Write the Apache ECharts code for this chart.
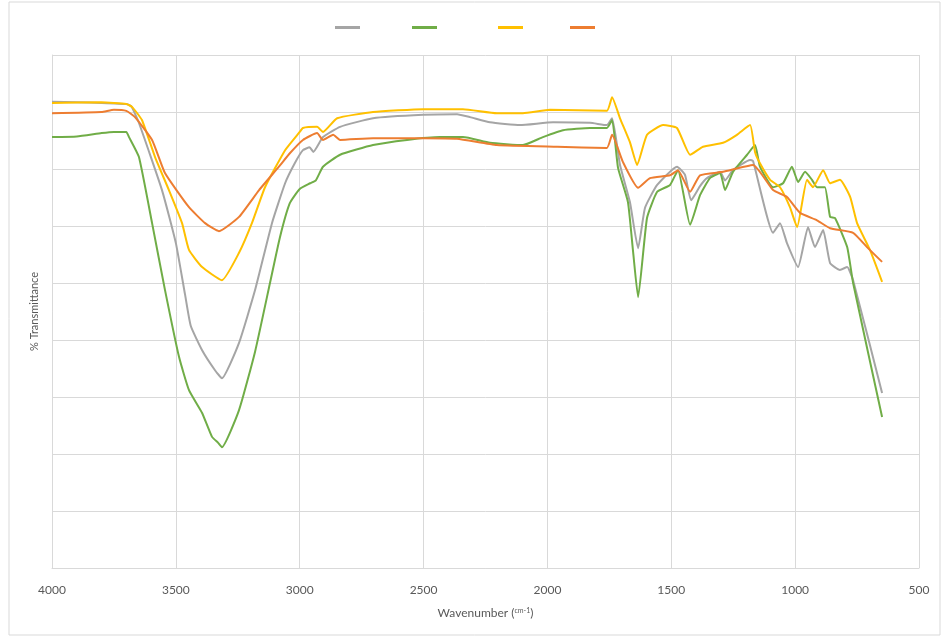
<!DOCTYPE html>
<html>
<head>
<meta charset="utf-8">
<script src="https://cdn.jsdelivr.net/npm/echarts@6/dist/echarts.min.js"></script>
<style>
html,body{margin:0;padding:0;background:#fff;}
#chart{width:946px;height:639px;}
</style>
</head>
<body>
<div id="chart"></div>
<script>
// Wavenumber ticks
const xTicks = [4000, 3500, 3000, 2500, 2000, 1500, 1000, 500];

// Series names (legend shows only line keys, no text)
const seriesNames = ['Sample 1', 'Sample 2', 'Sample 3', 'Sample 4'];

// [wavenumber, % transmittance (arbitrary scale 0-90)]
const grayData = [
  [4000,81.8],[3900,81.7],[3800,81.6],[3700,81.4],[3680,81.0],[3650,78.2],[3556,66.3],[3500,57.0],
  [3463,48.0],[3440,42.5],[3394,38.2],[3342,34.7],[3314,33.3],[3245,39.5],[3180,48.8],[3112,60.5],
  [3059,67.5],[3020,71.0],[2987,73.3],[2960,73.8],[2945,73.0],[2906,75.6],[2837,77.4],[2704,78.9],
  [2502,79.5],[2365,79.6],[2312,79.1],[2232,78.2],[2111,77.7],[1977,78.2],[1828,78.1],[1760,77.7],
  [1739,78.9],[1707,70.7],[1667,64.2],[1634,56.1],[1606,63.2],[1557,67.2],[1477,70.4],[1445,69.0],
  [1420,64.5],[1384,67.0],[1356,68.4],[1303,69.5],[1283,68.0],[1251,69.8],[1182,71.6],[1170,71.4],
  [1089,58.8],[1061,60.5],[1033,57.0],[988,52.8],[948,59.8],[920,56.3],[887,59.3],[859,53.5],
  [819,52.3],[790,52.8],[766,50.5],[649,30.7]
];
const greenData = [
  [4000,75.6],[3900,75.7],[3800,76.3],[3750,76.5],[3700,76.5],[3689,75.6],[3649,72.1],[3596,60.5],
  [3544,48.8],[3487,37.0],[3447,31.2],[3394,27.2],[3354,23.0],[3330,22.0],[3314,21.2],[3245,27.7],
  [3180,38.0],[3120,50.0],[3080,58.0],[3040,64.0],[3000,66.5],[2958,67.5],[2935,68.0],[2906,70.4],
  [2837,72.5],[2704,74.2],[2567,75.1],[2434,75.6],[2341,75.6],[2232,74.6],[2099,74.2],[2018,75.6],
  [1937,76.8],[1828,77.2],[1760,77.2],[1739,78.6],[1715,70.2],[1675,64.2],[1654,55.4],[1634,47.5],
  [1598,61.4],[1557,66.0],[1505,67.2],[1473,69.8],[1424,60.2],[1384,65.4],[1344,68.4],[1303,69.3],
  [1283,66.3],[1251,69.5],[1194,72.5],[1162,74.2],[1142,70.4],[1089,66.8],[1049,67.5],[1013,70.4],
  [988,67.7],[960,69.5],[932,68.1],[912,66.8],[880,66.8],[859,61.6],[839,61.4],[790,56.3],
  [766,50.0],[649,26.5]
];
const yellowData = [
  [4000,81.6],[3800,81.7],[3700,81.4],[3677,80.9],[3637,78.6],[3584,72.1],[3528,66.3],[3475,60.5],
  [3447,55.8],[3394,52.8],[3314,50.5],[3245,55.3],[3193,60.5],[3140,66.8],[3059,73.3],[3000,76.5],
  [2987,77.2],[2930,77.4],[2906,76.5],[2849,78.9],[2704,80.0],[2502,80.5],[2341,80.5],[2204,79.8],
  [2099,79.8],[1990,80.4],[1760,80.2],[1739,82.6],[1707,78.9],[1667,74.7],[1638,70.7],[1598,76.0],
  [1533,77.7],[1477,77.2],[1424,72.5],[1372,73.9],[1291,74.6],[1235,76.0],[1182,77.7],[1162,73.0],
  [1142,71.0],[1101,68.1],[1061,66.8],[1021,63.3],[992,59.8],[952,68.1],[928,66.8],[887,69.8],
  [859,67.5],[819,68.1],[778,65.1],[750,60.5],[698,55.8],[649,50.2]
];
const orangeData = [
  [4000,79.8],[3800,80.0],[3750,80.4],[3700,80.2],[3665,79.1],[3596,75.1],[3544,69.3],[3447,63.3],
  [3382,60.5],[3326,59.1],[3245,61.6],[3164,66.3],[3084,70.4],[3039,72.8],[2987,75.1],[2930,76.3],
  [2906,75.1],[2865,76.0],[2837,75.1],[2704,75.4],[2502,75.4],[2365,75.3],[2204,74.2],[1961,73.9],
  [1760,73.7],[1739,76.0],[1695,71.2],[1634,66.7],[1586,68.4],[1505,68.9],[1473,69.8],[1424,66.0],
  [1384,68.9],[1291,69.5],[1170,70.7],[1089,66.3],[1033,65.1],[980,62.3],[912,61.0],[859,59.6],
  [766,58.8],[710,56.3],[649,53.7]
];

const colors = ['#a5a5a5', '#70ad47', '#ffc000', '#ed7d31'];
const allData = [grayData, greenData, yellowData, orangeData];
const legendLefts = [335, 412, 498, 570];

const chart = echarts.init(document.getElementById('chart'), null, {renderer: 'canvas'});

const option = {
  animation: false,
  backgroundColor: '#ffffff',
  textStyle: {fontFamily: 'Lato, "Open Sans", sans-serif'},
  graphic: [{
    type: 'rect',
    shape: {x: 9, y: 2, width: 931, height: 633},
    style: {fill: 'none', stroke: '#d9d9d9', lineWidth: 1},
    silent: true, z: -1
  }],
  legend: seriesNames.map((n, i) => ({
    data: [{name: n, icon: 'rect'}],
    left: legendLefts[i],
    top: 26,
    itemWidth: 25,
    itemHeight: 3,
    padding: 0,
    formatter: () => '',
    selectedMode: false
  })),
  grid: {left: 52, right: 27, top: 55, bottom: 71, containLabel: false},
  xAxis: {
    type: 'value',
    inverse: true,
    min: 500,
    max: 4000,
    interval: 500,
    name: 'Wavenumber ({sup|cm-1})',
    nameLocation: 'middle',
    nameGap: 39,
    nameTextStyle: {
      color: '#595959', fontSize: 12,
      rich: {sup: {fontSize: 7, color: '#595959', verticalAlign: 'top', padding: [0, 0, 6, 0]}}
    },
    axisLine: {show: true, lineStyle: {color: '#d9d9d9'}},
    axisTick: {show: false},
    axisLabel: {color: '#595959', fontSize: 12, margin: 16, formatter: v => String(v)},
    splitLine: {show: true, lineStyle: {color: '#d9d9d9', width: 1}}
  },
  yAxis: {
    type: 'value',
    min: 0,
    max: 90,
    interval: 10,
    name: '% Transmittance',
    nameLocation: 'middle',
    nameGap: 12,
    nameTextStyle: {color: '#595959', fontSize: 11},
    axisLine: {show: true, lineStyle: {color: '#d9d9d9'}},
    axisTick: {show: false},
    axisLabel: {show: false},
    splitLine: {show: true, lineStyle: {color: '#d9d9d9', width: 1}}
  },
  series: seriesNames.map((n, i) => ({
    name: n,
    type: 'line',
    data: allData[i],
    symbol: 'none',
    showSymbol: false,
    smooth: 0.15,
    color: colors[i],
    lineStyle: {color: colors[i], width: 2},
    z: 2 + i
  }))
};

chart.setOption(option);
</script>
</body>
</html>
